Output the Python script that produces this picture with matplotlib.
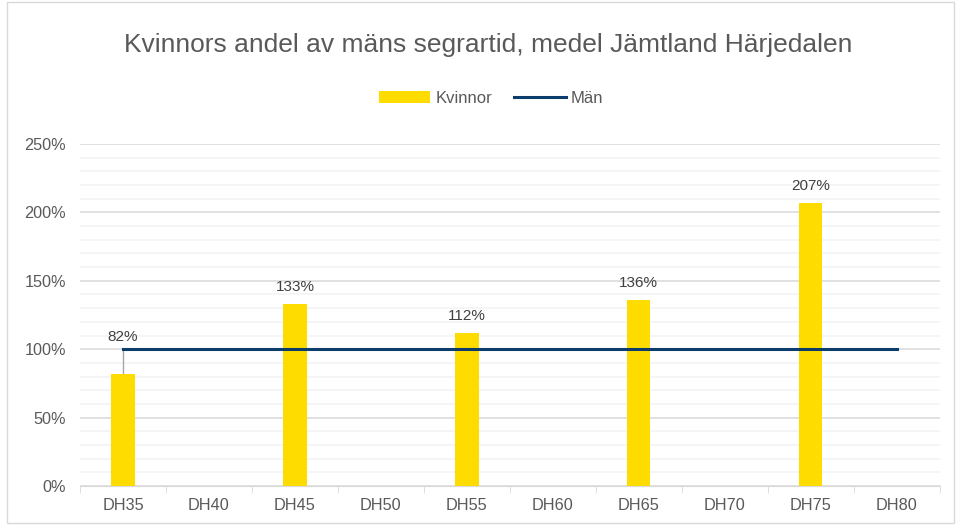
import numpy as np
import matplotlib.pyplot as plt
from matplotlib.patches import Rectangle
from matplotlib.ticker import MultipleLocator, PercentFormatter

# data
klasser = ["DH35", "DH40", "DH45", "DH50", "DH55", "DH60", "DH65", "DH70", "DH75", "DH80"]
kvinnor = [82, np.nan, 133, np.nan, 112, np.nan, 136, np.nan, 207, np.nan]
man = [100, 100, 100, 100, 100, 100, 100, 100, 100, 100]

grey = "#595959"
plt.rcParams["font.family"] = ["Liberation Sans", "DejaVu Sans"]

fig = plt.figure(figsize=(9.57, 5.25), dpi=100)
ax = fig.add_axes([0.0836, 0.0743, 0.8984, 0.6514])

x = np.arange(len(klasser))
bars = ax.bar(x, kvinnor, width=0.27, color="#FFDC00", label="Kvinnor", zorder=3)
line, = ax.plot(x, man, color="#0B3C6B", lw=2.2, label="Män", zorder=4)

# data labels
for i, v in enumerate(kvinnor):
    if np.isnan(v):
        continue
    if v < 100:
        ax.plot([i, i], [v, 100], color="#A6A6A6", lw=1, zorder=2)
        ax.text(i, 104, f"{v:.0f}%", ha="center", va="bottom", fontsize=11, color="#404040")
    else:
        ax.text(i, v + 7, f"{v:.0f}%", ha="center", va="bottom", fontsize=11, color="#404040")

ax.set_xlim(-0.5, len(klasser) - 0.5)
ax.set_ylim(0, 250)
ax.yaxis.set_major_locator(MultipleLocator(50))
ax.yaxis.set_minor_locator(MultipleLocator(10))
ax.yaxis.set_major_formatter(PercentFormatter(decimals=0))
ax.grid(axis="y", which="major", color="#D9D9D9", lw=1.1, zorder=0)
ax.grid(axis="y", which="minor", color="#F2F2F2", lw=1.1, zorder=0)
ax.set_axisbelow(True)

ax.set_xticks(x)
ax.set_xticklabels(klasser)
ax.set_xticks(np.arange(-0.5, len(klasser)), minor=True)
ax.tick_params(axis="x", which="major", length=0, pad=9, labelsize=11.7, labelcolor=grey)
ax.tick_params(axis="x", which="minor", length=5, color="#D9D9D9")
ax.tick_params(axis="y", which="both", length=0, pad=10, labelsize=11.7, labelcolor=grey)

for s in ["top", "right", "left"]:
    ax.spines[s].set_visible(False)
ax.spines["bottom"].set_color("#D9D9D9")

fig.text(0.51, 0.914, "Kvinnors andel av mäns segrartid, medel Jämtland Härjedalen",
         ha="center", va="center", fontsize=19, color=grey)
fig.legend([bars, line], ["Kvinnor", "Män"], loc="center", bbox_to_anchor=(0.513, 0.813),
           ncol=2, frameon=False, fontsize=12, labelcolor=grey, handlelength=3.1,
           columnspacing=1.3, handletextpad=0.3)

fig.patches.append(Rectangle((0.007, 0.004), 0.99, 0.992, transform=fig.transFigure,
                             fill=False, edgecolor="#D9D9D9", lw=1))

fig.savefig("out.png", dpi=100)
